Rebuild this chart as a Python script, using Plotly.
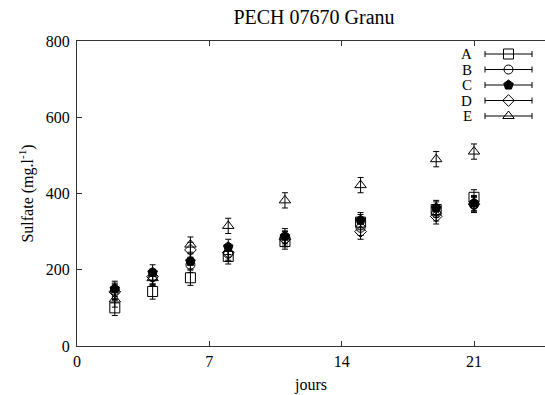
import plotly.graph_objects as go

days = [2, 4, 6, 8, 11, 15, 19, 21]
series_names = ["A", "B", "C", "D", "E"]
A = [100, 143, 179, 235, 274, 325, 358, 390]
B = [145, 180, 213, 242, 282, 310, 348, 370]
C = [150, 193, 222, 260, 288, 330, 362, 375]
D = [142, 182, 252, 245, 280, 300, 340, 372]
E = [122, 178, 266, 315, 382, 422, 490, 510]
err_A = [20, 20, 20, 20, 20, 20, 20, 20]
err_B = [20, 20, 20, 20, 20, 20, 20, 20]
err_C = [20, 20, 20, 20, 20, 20, 20, 20]
err_D = [20, 20, 20, 20, 20, 20, 20, 20]
err_E = [20, 20, 20, 20, 20, 20, 20, 20]
x_ticks = [0, 7, 14, 21]
y_ticks = [0, 200, 400, 600, 800]

values = [A, B, C, D, E]
errors = [err_A, err_B, err_C, err_D, err_E]
symbols = ["square-open", "circle-open", "pentagon", "diamond-open", "triangle-up-open"]
sizes = [10, 9, 10, 9, 10]

FONT = "Liberation Serif"
W, H = 545, 395
L, R, T, B_ = 77, 0, 41, 49

fig = go.Figure()
for name, vals, errs, sym, sz in zip(series_names, values, errors, symbols, sizes):
    fig.add_trace(go.Scatter(
        x=days, y=vals, mode="markers", name=name, showlegend=False,
        marker=dict(symbol=sym, size=sz, color="black", line=dict(color="black", width=1)),
        error_y=dict(type="data", array=errs, visible=True, color="black", thickness=1, width=3),
    ))

# custom gnuplot-style legend drawn in an overlay pixel-like coordinate system
leg_rows = [54, 69.5, 85, 100.5, 116]
leg_x_center = 508.5
leg_half = 23.5
for name, sym, sz, ry in zip(series_names, symbols, sizes, leg_rows):
    fig.add_trace(go.Scatter(
        x=[leg_x_center], y=[ry], mode="markers", xaxis="x2", yaxis="y2", showlegend=False,
        marker=dict(symbol=sym, size=sz, color="black", line=dict(color="black", width=1)),
        error_x=dict(type="constant", value=leg_half, visible=True, color="black", thickness=1, width=3),
        hoverinfo="skip",
    ))
    fig.add_annotation(x=474, y=ry, xref="x2", yref="y2", text=name, showarrow=False,
                       xanchor="right", yanchor="middle", height=14,
                       font=dict(family=FONT, size=15, color="black"))

plot_w = W - L - R
px_per_day = (474 - 77) / 21.0
x_max = plot_w / px_per_day

fig.update_layout(
    width=W, height=H,
    margin=dict(l=L, r=R, t=T, b=B_, pad=0, autoexpand=False),
    paper_bgcolor="white", plot_bgcolor="white",
    font=dict(family=FONT, size=16, color="black"),
    title=dict(text="PECH 07670 Granu", x=314 / W, xanchor="center",
               y=1 - 17 / H, yanchor="middle", font=dict(family=FONT, size=20, color="black")),
    xaxis=dict(range=[0, x_max], tickvals=x_ticks, ticks="inside", ticklen=5, tickcolor="#333",
               showline=True, linecolor="#333", linewidth=1, mirror="ticks", showgrid=False,
               zeroline=False, automargin=False,
               title=dict(text="jours", standoff=9, font=dict(size=16)),
               ticklabelstandoff=1),
    yaxis=dict(range=[0, 800], tickvals=y_ticks, ticks="inside", ticklen=5, tickcolor="#333",
               showline=True, linecolor="#333", linewidth=1, mirror=False, showgrid=False,
               zeroline=False, automargin=False,
               title=dict(text="Sulfate (mg.l<sup>-1</sup>)", standoff=8, font=dict(size=16)),
               ticklabelstandoff=3),
    xaxis2=dict(overlaying="x", range=[L, W - R], visible=False, fixedrange=True),
    yaxis2=dict(overlaying="y", range=[H - B_, T], visible=False, fixedrange=True),
)

fig.write_html("out.html", config={"displayModeBar": False},
               post_script="document.body.style.margin='0';document.body.style.overflow='hidden';")
